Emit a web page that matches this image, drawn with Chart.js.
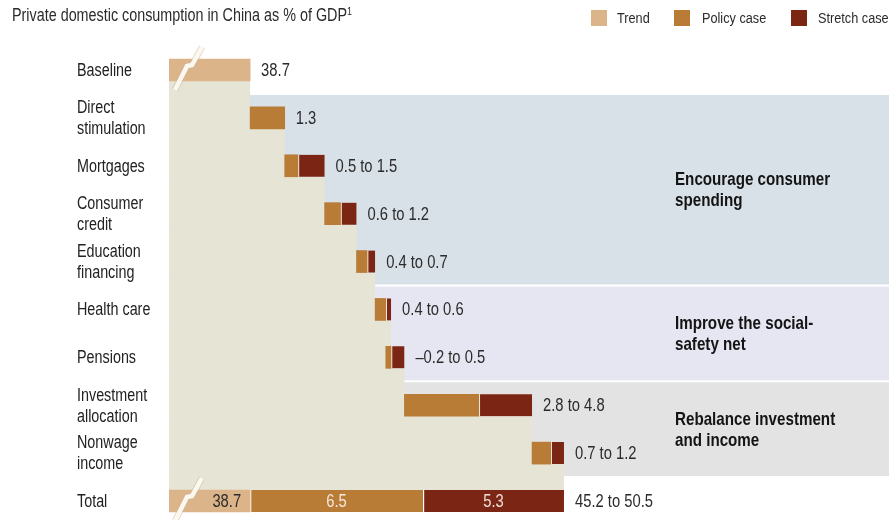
<!DOCTYPE html>
<html>
<head>
<meta charset="utf-8">
<script src="https://cdn.jsdelivr.net/npm/chart.js@4.4.1/dist/chart.umd.min.js"></script>
<style>
    html, body { margin: 0; padding: 0; background: #fff; }
    body {
        width: 891px; height: 520px; position: relative; overflow: hidden;
        font-family: "Liberation Sans", Arial, sans-serif;
        color: #2b2b2b;
    }
    #wrap { position: absolute; left: 0; top: 0; width: 891px; height: 520px; }
    .narrow { position: absolute; white-space: nowrap; transform: scaleX(0.82); transform-origin: 0 0; }
    .title { left: 12px; top: 6px; font-size: 17.5px; line-height: 18px; }
    .title sup { font-size: 11px; vertical-align: 6px; line-height: 0; }
    .legend { top: 10px; font-size: 15.5px; line-height: 16px; }
    .box { position: absolute; top: 10px; width: 16px; height: 16px; }
</style>
</head>
<body>
<div id="wrap"><canvas id="chart"></canvas></div>
<div class="narrow title">Private domestic consumption in China as % of GDP<sup>1</sup></div>
<div class="box" style="left:591px;background:#dcb48a"></div>
<div class="narrow legend" style="left:617px">Trend</div>
<div class="box" style="left:674px;background:#b97c37"></div>
<div class="narrow legend" style="left:702px">Policy case</div>
<div class="box" style="left:791px;background:#7b2614"></div>
<div class="narrow legend" style="left:818px">Stretch case</div>
<script>
const categories = [
    ["Baseline"], ["Direct", "stimulation"], ["Mortgages"], ["Consumer", "credit"],
    ["Education", "financing"], ["Health care"], ["Pensions"],
    ["Investment", "allocation"], ["Nonwage", "income"], ["Total"]
];
const baseline = 38.7;
const policyCase = [1.3, 0.5, 0.6, 0.4, 0.4, -0.2, 2.8, 0.7];
const stretchCase = [1.3, 1.5, 1.2, 0.7, 0.6, 0.5, 4.8, 1.2];
const rowLabels = ["38.7", "1.3", "0.5 to 1.5", "0.6 to 1.2", "0.4 to 0.7", "0.4 to 0.6",
    "\u20130.2 to 0.5", "2.8 to 4.8", "0.7 to 1.2", "45.2 to 50.5"];
const totalLabels = ["38.7", "6.5", "5.3"];
const groupNames = [["Encourage consumer", "spending"], ["Improve the social-", "safety net"], ["Rebalance investment", "and income"]];
const groupRows = [[1, 4], [5, 6], [7, 8]];
const xMin = 35.65;
const xMax = 62.72;

const FONT = '"Liberation Sans", Arial, sans-serif';
const NARROW = 0.82;
const colors = { trend: "#dcb48a", policy: "#b97c37", stretch: "#7b2614", connector: "#e6e5d5" };
const groupColors = ["#d9e1e8", "#e6e6f2", "#e3e3e3"];
const barThickness = 22;

// waterfall: each lever starts where the previous stretch case ended
const last = categories.length - 1;
const trendData = categories.map(() => null);
const policyData = categories.map(() => null);
const stretchData = categories.map(() => null);
const rowStart = [];
const rowEnd = [];

trendData[0] = [0, baseline];
rowEnd[0] = baseline;
let cum = baseline;
policyCase.forEach((p, i) => {
    const row = i + 1;
    const s = stretchCase[i];
    rowStart[row] = cum;
    policyData[row] = [cum, cum + p];
    if (s > p) stretchData[row] = [cum + Math.max(p, 0), cum + s];
    rowEnd[row] = cum + Math.max(p, s);
    cum += s;
});
const policySum = policyCase.reduce((a, b) => a + b, 0);
trendData[last] = [0, baseline];
policyData[last] = [baseline, baseline + policySum];
stretchData[last] = [baseline + policySum, cum];
rowEnd[last] = cum;

// condensed text, the way the original's narrow typeface looks
function narrowText(ctx, text, x, y, align) {
    const w = ctx.measureText(text).width * NARROW;
    let left = x;
    if (align === "right") left = x - w;
    else if (align === "center") left = x - w / 2;
    ctx.save();
    ctx.textAlign = "left";
    ctx.translate(left, y);
    ctx.scale(NARROW, 1);
    ctx.fillText(text, 0, 0);
    ctx.restore();
}

function drawBreak(ctx, left, cy) {
    const pts = [[33, -23], [23, -5], [18, -4], [6, 20]];
    ctx.save();
    ctx.lineJoin = "miter";
    ctx.beginPath();
    pts.forEach(([dx, dy], i) => i ? ctx.lineTo(left + dx, cy + dy) : ctx.moveTo(left + dx, cy + dy));
    ctx.strokeStyle = "rgba(200,185,160,0.5)";
    ctx.lineWidth = 6.5;
    ctx.stroke();
    ctx.strokeStyle = "#fcf8ef";
    ctx.lineWidth = 4.5;
    ctx.stroke();
    ctx.restore();
}

const waterfallPlugin = {
    id: "waterfallShading",
    beforeDatasetsDraw(chart) {
        const { ctx, chartArea, scales } = chart;
        const x = scales.x, y = scales.y;
        const step = y.getPixelForValue(1) - y.getPixelForValue(0);
        const half = barThickness / 2;
        ctx.save();

        groupRows.forEach(([a, b], g) => {
            const top = y.getPixelForValue(a) - step / 2 + 1;
            const bottom = y.getPixelForValue(b) + step / 2 - 1;
            ctx.fillStyle = groupColors[g];
            ctx.fillRect(chartArea.left, top, chartArea.right - chartArea.left, bottom - top);
        });

        ctx.fillStyle = colors.connector;
        for (let row = 1; row < last; row++) {
            const top = y.getPixelForValue(row - 1) + half;
            const bottom = y.getPixelForValue(row) + half;
            ctx.fillRect(chartArea.left, top, x.getPixelForValue(rowStart[row]) - chartArea.left, bottom - top);
        }
        const top = y.getPixelForValue(last - 1) + half;
        const bottom = y.getPixelForValue(last) - half;
        ctx.fillRect(chartArea.left, top, x.getPixelForValue(cum) - chartArea.left, bottom - top);

        ctx.restore();
    },
    afterDatasetsDraw(chart) {
        const { ctx, chartArea, scales } = chart;
        const x = scales.x, y = scales.y;
        ctx.save();
        ctx.textBaseline = "middle";

        // category labels
        ctx.font = "17.5px " + FONT;
        ctx.fillStyle = "#222222";
        y.ticks.forEach((tick, i) => {
            const lines = [].concat(y.getLabelForValue(tick.value));
            const cy = y.getPixelForTick(i);
            lines.forEach((line, k) => {
                narrowText(ctx, line, y.left, cy + (k - (lines.length - 1) / 2) * 21 + 1, "left");
            });
        });

        ctx.font = "18px " + FONT;
        ctx.fillStyle = "#2b2b2b";
        rowLabels.forEach((label, row) => {
            narrowText(ctx, label, x.getPixelForValue(rowEnd[row]) + 11, y.getPixelForValue(row) + 1, "left");
        });

        const ty = y.getPixelForValue(last) + 1;
        narrowText(ctx, totalLabels[0], x.getPixelForValue(baseline) - 9, ty, "right");
        ctx.fillStyle = "#f4e8d8";
        narrowText(ctx, totalLabels[1], (x.getPixelForValue(policyData[last][0]) + x.getPixelForValue(policyData[last][1])) / 2, ty, "center");
        ctx.fillStyle = "#f2dcd6";
        narrowText(ctx, totalLabels[2], (x.getPixelForValue(stretchData[last][0]) + x.getPixelForValue(stretchData[last][1])) / 2, ty, "center");

        ctx.font = "bold 18.5px " + FONT;
        ctx.fillStyle = "#141414";
        groupNames.forEach((lines, g) => {
            const [a, b] = groupRows[g];
            const mid = (y.getPixelForValue(a) + y.getPixelForValue(b)) / 2;
            lines.forEach((line, k) => {
                narrowText(ctx, line, chartArea.right - 214, mid + (k - (lines.length - 1) / 2) * 21 + 1, "left");
            });
        });

        drawBreak(ctx, chartArea.left, y.getPixelForValue(0));
        drawBreak(ctx, chartArea.left, y.getPixelForValue(last));
        ctx.restore();
    }
};

const common = {
    grouped: false,
    barThickness: barThickness,
    borderSkipped: false,
    borderColor: "#ffffff",
    clip: { left: 0, right: 0, top: 40, bottom: 40 }
};

new Chart(document.getElementById("chart"), {
    type: "bar",
    data: {
        labels: categories,
        datasets: [
            Object.assign({}, common, { label: "Trend", data: trendData, backgroundColor: colors.trend, borderWidth: 0 }),
            Object.assign({}, common, {
                label: "Policy case", data: policyData, backgroundColor: colors.policy,
                borderWidth: ctx => ctx.dataIndex === last ? { left: 1.5, top: 0, right: 0, bottom: 0 } : 0
            }),
            Object.assign({}, common, {
                label: "Stretch case", data: stretchData, backgroundColor: colors.stretch,
                borderWidth: { left: 1.5, top: 0, right: 0, bottom: 0 }
            })
        ]
    },
    options: {
        indexAxis: "y",
        animation: false,
        responsive: true,
        maintainAspectRatio: false,
        layout: { padding: { left: 77, top: 70, right: 2, bottom: 19 } },
        plugins: {
            legend: { display: false },
            tooltip: { enabled: false }
        },
        scales: {
            x: { type: "linear", min: xMin, max: xMax, display: false },
            y: {
                type: "category",
                offset: false,
                grid: { display: false },
                border: { display: false },
                ticks: { display: false, autoSkip: false },
                afterFit(scale) { scale.width = 92; }
            }
        }
    },
    plugins: [waterfallPlugin]
});
</script>
</body>
</html>
